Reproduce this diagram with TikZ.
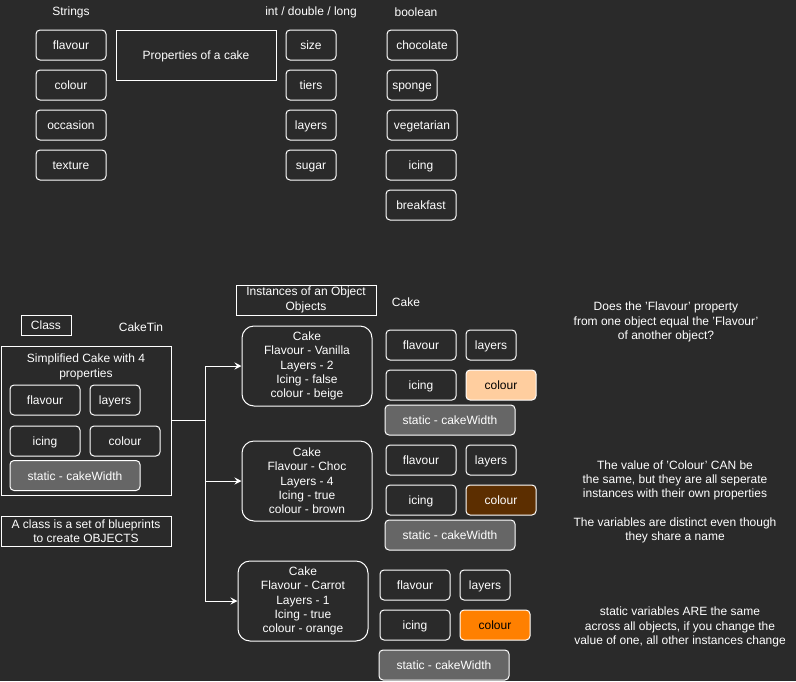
\documentclass[tikz,border=0pt]{standalone}
\usepackage{fontspec}
\setmainfont{Liberation Sans}
\usetikzlibrary{positioning,arrows.meta}

\definecolor{bgdark}{HTML}{2A2A2A}
\definecolor{staticgrey}{HTML}{666666}
\definecolor{beige}{HTML}{FFCE9F}
\definecolor{brown}{HTML}{5C2E00}
\definecolor{orange}{HTML}{FF8000}

\begin{document}
\begin{tikzpicture}[x=1pt, y=-1pt,
  every node/.style={text=white, font=\fontsize{12}{14.3}\selectfont, align=center, inner sep=0pt},
  prop/.style={draw=white, line width=1pt, rounded corners=4pt, minimum width=70pt, minimum height=30pt,
    text height=11pt, text depth=2pt},
  shortprop/.style={prop, minimum width=50pt},
  statprop/.style={prop, minimum width=130pt, fill=staticgrey},
  plainbox/.style={draw=white, line width=1pt},
  cake/.style={draw=white, line width=1pt, rounded corners=12pt, minimum width=130pt, minimum height=80pt},
  link/.style={draw=white, line width=1pt, -{Stealth[length=7pt,width=7pt,inset=2.5pt]}}]

  \useasboundingbox[fill=bgdark] (0,0) rectangle (796,681);

  % property types
  \node (strings) at (71,12) {Strings};
  \node (numbers) at (311,12) {int / double / long};
  \node (booleans) at (416,12) {boolean};

  \node[prop] (sflavour) at (71,45) {flavour};
  \node[prop, below=9pt of sflavour] (scolour) {colour};
  \node[prop, below=9pt of scolour] (soccasion) {occasion};
  \node[prop, below=9pt of soccasion] (stexture) {texture};

  \node[plainbox, minimum width=160pt, minimum height=50pt, text height=11pt, text depth=2pt] (props) at (196,55) {Properties of a cake};

  \node[shortprop] (nsize) at (311,45) {size};
  \node[shortprop, below=9pt of nsize] (ntiers) {tiers};
  \node[shortprop, below=9pt of ntiers] (nlayers) {layers};
  \node[shortprop, below=9pt of nlayers] (nsugar) {sugar};

  \node[prop] (bchoc) at (422,45) {chocolate};
  \node[shortprop] (bsponge) at (412,85) {sponge};
  \node[prop] (bveg) at (422,125) {vegetarian};
  \node[prop] (bicing) at (421,165) {icing};
  \node[prop] (bbreak) at (421,205) {breakfast};

  % class
  \node[plainbox, minimum width=50pt, minimum height=20pt, text height=11pt, text depth=2pt] (classlbl) at (46,325) {Class};
  \node (caketin) at (141,327) {CakeTin};
  \node[plainbox, minimum width=170pt, minimum height=149pt] (classbox) at (86,420.5) {};
  \node (classtitle) at (86,367) {Simplified Cake with 4\\properties};
  \node[prop] (cflavour) at (45,400) {flavour};
  \node[shortprop, right=9pt of cflavour] (clayers) {layers};
  \node[prop] (cicing) at (45,441) {icing};
  \node[prop, right=9pt of cicing] (ccolour) {colour};
  \node[statprop] (cstatic) at (75,475.5) {static - cakeWidth};
  \node[plainbox, minimum width=170pt, minimum height=30pt] (classnote) at (86,531) {A class is a set of blueprints\\to create OBJECTS};

  % objects
  \node[plainbox, minimum width=140pt, minimum height=30pt] (instances) at (306,300) {Instances of an Object\\Objects};
  \node (objcake) at (406,302) {Cake};

  \node[cake] (cakeA) at (307,366) {Cake\\Flavour - Vanilla\\Layers - 2\\Icing - false\\colour - beige};
  \node[cake] (cakeB) at (307,481) {Cake\\Flavour - Choc\\Layers - 4\\Icing - true\\colour - brown};
  \node[cake] (cakeC) at (303,601) {Cake\\Flavour - Carrot\\Layers - 1\\Icing - true\\colour - orange};

  \foreach \n/\x/\y/\c/\t/\g in {A/421/345/beige/black/4, B/421/460/brown/white/4, C/415/585/orange/black/9} {
    \node[prop] (flav\n) at (\x,\y) {flavour};
    \node[shortprop, right=9pt of flav\n] (lay\n) {layers};
    \node[prop, below=9pt of flav\n] (ice\n) {icing};
    \node[prop, right=9pt of ice\n, fill=\c, text=\t] (col\n) {colour};
    \node[statprop, below=\g pt of ice\n.south west, anchor=north west, xshift=-1pt] (stat\n) {static - cakeWidth};
  }

  \coordinate (split) at (205,420.5);
  \draw[white, line width=1pt] (classbox.east) -- (split);
  \foreach \k in {A,B,C}
    \draw[link] (split) |- (cake\k.west);

  % notes
  \node (noteflav) at (666,322) {Does the 'Flavour' property\\from one object equal the 'Flavour'\\of another object?};
  \node (notecol) at (675,502) {The value of 'Colour' CAN be\\the same, but they are all seperate\\instances with their own properties\\[14.3pt]The variables are distinct even though\\they share a name};
  \node (notestatic) at (680,627) {static variables ARE the same\\across all objects, if you change the\\value of one, all other instances change};
\end{tikzpicture}
\end{document}
